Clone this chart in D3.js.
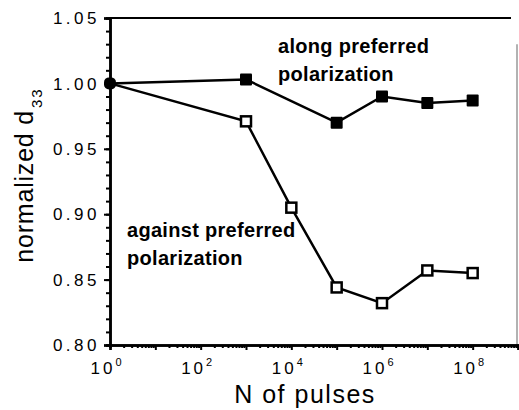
<!DOCTYPE html>
<html>
<head>
<meta charset="utf-8">
<script src="https://cdn.jsdelivr.net/npm/d3@7"></script>
<style>
  body { margin: 0; background: #fff; }
  svg { display: block; }
  text { font-family: "Liberation Sans", Arial, Helvetica, sans-serif; fill: #000; }
</style>
</head>
<body>
<svg id="chart" width="519" height="410"></svg>
<script>
// pulse counts (x) and normalized d33 (y)
const pulsesAlong = [1, 1e3, 1e5, 1e6, 1e7, 1e8];
const d33Along = [1.0, 1.003, 0.970, 0.990, 0.985, 0.987];
const pulsesAgainst = [1, 1e3, 1e4, 1e5, 1e6, 1e7, 1e8];
const d33Against = [1.0, 0.971, 0.905, 0.844, 0.832, 0.857, 0.855];
const yTicks = [0.80, 0.85, 0.90, 0.95, 1.00, 1.05];
const xTickExp = [0, 2, 4, 6, 8];

const svg = d3.select("#chart");
const margin = { top: 18, right: 1, bottom: 65, left: 110 };
const width = 519, height = 410;

const x = d3.scaleLog().domain([1, 1e9]).range([margin.left, width - margin.right]);
const y = d3.scaleLinear().domain([0.80, 1.05]).range([height - margin.bottom, margin.top]);

// frame: top and faint right border
svg.append("line")
  .attr("x1", x(1)).attr("x2", width - 8)
  .attr("y1", y(1.05)).attr("y2", y(1.05))
  .attr("stroke", "#000").attr("stroke-width", 2);
svg.append("line")
  .attr("x1", width - 2).attr("x2", width - 2)
  .attr("y1", y(1.03)).attr("y2", y(0.80))
  .attr("stroke", "#999").attr("stroke-width", 1.5);

// y axis with minor ticks every 0.01
const yAxis = svg.append("g").attr("transform", `translate(${margin.left},0)`);
yAxis.call(d3.axisLeft(y).tickValues(d3.range(0.80, 1.051, 0.01)).tickSize(4).tickFormat(""));
yAxis.append("g").call(d3.axisLeft(y).tickValues(yTicks).tickSize(6).tickFormat(""));
yAxis.selectAll("path.domain").attr("stroke-width", 2.5);
yAxis.selectAll(".tick line").attr("stroke-width", 2);

svg.append("g").selectAll("text")
  .data(yTicks)
  .join("text")
  .attr("x", margin.left - 10)
  .attr("y", d => y(d))
  .attr("dy", "0.36em")
  .attr("text-anchor", "end")
  .attr("font-size", 17)
  .attr("letter-spacing", 3.5)
  .text(d => d.toFixed(2));

// x axis: log scale, decades major, minors downward
const minor = [];
for (let e = 0; e < 9; e++) for (let m = 2; m <= 9; m++) minor.push(m * Math.pow(10, e));
const xAxis = svg.append("g").attr("transform", `translate(0,${y(0.80)})`);
xAxis.call(d3.axisBottom(x).tickValues(minor).tickSize(3).tickFormat(""));
xAxis.append("g").call(d3.axisBottom(x).tickValues(d3.range(0, 10).map(e => Math.pow(10, e))).tickSize(5).tickFormat(""));
xAxis.selectAll("path.domain").attr("stroke-width", 2.5);
xAxis.selectAll(".tick line").attr("stroke-width", 2);

const xl = svg.append("g").selectAll("text")
  .data(xTickExp)
  .join("text")
  .attr("x", d => x(Math.pow(10, d)) - 4)
  .attr("y", y(0.80) + 29)
  .attr("text-anchor", "middle")
  .attr("font-size", 17);
xl.append("tspan").attr("letter-spacing", 3).text("10");
xl.append("tspan").attr("font-size", 11).attr("dy", -8).text(d => d);

// axis titles
svg.append("text")
  .attr("x", 305).attr("y", 403)
  .attr("text-anchor", "middle")
  .attr("font-size", 25)
  .attr("letter-spacing", 1.5)
  .text("N of pulses");

const yt = svg.append("text")
  .attr("transform", "translate(33,175) rotate(-90)")
  .attr("text-anchor", "middle")
  .attr("font-size", 25)
  .attr("letter-spacing", 0.8);
yt.append("tspan").text("normalized d");
yt.append("tspan").attr("font-size", 15).attr("dy", 9).attr("dx", 2).attr("letter-spacing", 2).text("33");

// series lines
const line = d3.line().x(d => x(d[0])).y(d => y(d[1]));
svg.append("path")
  .datum(d3.zip(pulsesAgainst, d33Against))
  .attr("fill", "none").attr("stroke", "#000").attr("stroke-width", 2.5)
  .attr("d", line);
svg.append("path")
  .datum(d3.zip(pulsesAlong, d33Along))
  .attr("fill", "none").attr("stroke", "#000").attr("stroke-width", 2.5)
  .attr("d", line);

// markers
const s = 10;
svg.append("g").selectAll("rect")
  .data(d3.zip(pulsesAgainst, d33Against).slice(1))
  .join("rect")
  .attr("x", d => x(d[0]) - s / 2).attr("y", d => y(d[1]) - s / 2)
  .attr("width", s).attr("height", s)
  .attr("fill", "#fff").attr("stroke", "#000").attr("stroke-width", 2.5);
svg.append("g").selectAll("rect")
  .data(d3.zip(pulsesAlong, d33Along))
  .join("rect")
  .attr("x", d => x(d[0]) - 6).attr("y", d => y(d[1]) - 6)
  .attr("width", 12).attr("height", 12)
  .attr("rx", (d, i) => i === 0 ? 5 : 1)
  .attr("fill", "#000");

// annotations
const ann = [
  { t: ["along preferred", "polarization"], x: 278, y: 53 },
  { t: ["against preferred", "polarization"], x: 127, y: 237 }
];
ann.forEach(a => {
  svg.append("g").selectAll("text")
    .data(a.t)
    .join("text")
    .attr("x", a.x).attr("y", (d, i) => a.y + i * 28)
    .attr("font-size", 20)
    .attr("font-weight", "bold")
    .attr("letter-spacing", 0.3)
    .text(d => d);
});
</script>
</body>
</html>
